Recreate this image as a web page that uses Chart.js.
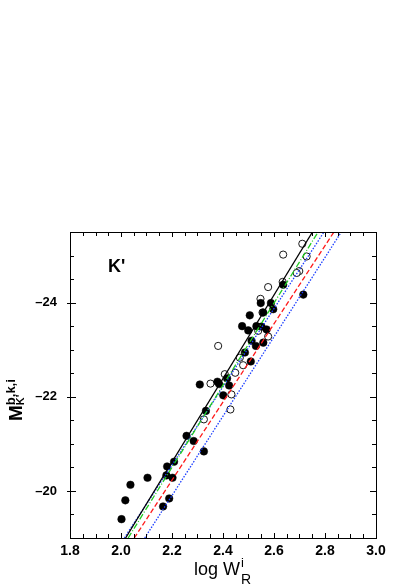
<!DOCTYPE html>
<html><head><meta charset="utf-8">
<style>html,body{margin:0;padding:0;background:#fff;}#wrap{width:415px;height:588px;position:relative;}</style>
<script src="https://cdn.jsdelivr.net/npm/chart.js@4/dist/chart.umd.min.js"></script>
</head><body><div id="wrap"><canvas id="c" width="415" height="588"></canvas></div>
<script>
// Filled circles (log W, M)
const filledX = [2.002,2.017,2.037,2.104,2.165,2.189,2.181,2.178,2.202,2.208,2.257,2.285,2.325,2.333,2.309,2.378,2.385,2.424,2.401,2.416,2.486,2.509,2.512,2.529,2.475,2.499,2.505,2.531,2.551,2.571,2.558,2.548,2.588,2.558,2.597,2.636,2.715];
const filledY = [-19.40,-19.80,-20.13,-20.28,-19.67,-19.84,-20.52,-20.33,-20.28,-20.62,-21.17,-21.06,-20.84,-21.70,-22.26,-22.32,-22.27,-22.24,-22.03,-22.39,-22.94,-22.75,-23.19,-23.08,-23.50,-23.41,-23.73,-23.50,-23.49,-23.43,-23.15,-23.99,-23.99,-23.79,-23.86,-24.38,-24.17];
// Open circles
const openX = [2.711,2.636,2.728,2.699,2.689,2.634,2.577,2.547,2.555,2.577,2.538,2.381,2.351,2.407,2.448,2.433,2.429,2.325,2.466,2.479];
const openY = [-25.25,-25.02,-24.98,-24.67,-24.63,-24.44,-24.33,-24.08,-23.79,-23.28,-23.40,-23.08,-22.28,-22.48,-22.51,-22.05,-21.73,-21.52,-22.83,-22.67];
// Fit lines: x at M=-19 and at M=-25.5
const lineY = [-19, -25.5];
const lineBlackX = [2.018, 2.751];
const lineGreenX = [2.028, 2.773];
const lineBlueInnerX = [2.013, 2.796];
const lineRedX = [2.052, 2.835];
const lineBlueOuterX = [2.093, 2.864];
// Ticks
const xTicks = [1.8, 2.0, 2.2, 2.4, 2.6, 2.8, 3.0];
const yTicks = [-24, -22, -20];
const xMinorStep = 0.05;
const yMinorStep = 0.5;

const pts = (xs, ys) => xs.map((x, i) => ({x: x, y: ys[i]}));

function lineDs(xs, color, dash, w) {
  return {type: 'line', data: pts(xs, lineY), borderColor: color, borderWidth: w || 1.3,
    borderDash: dash, pointRadius: 0, fill: false, tension: 0, order: 0};
}

const framePlugin = {
  id: 'frame',
  afterDatasetsDraw(chart) {
    const ctx = chart.ctx, a = chart.chartArea;
    const xs = chart.scales.x, ys = chart.scales.y;
    ctx.save();
    ctx.strokeStyle = '#000';
    ctx.lineWidth = 1;
    ctx.strokeRect(Math.round(a.left) + 0.5, Math.round(a.top) + 0.5, Math.round(a.right - a.left), Math.round(a.bottom - a.top));
    ctx.beginPath();
    for (let v = 1.8; v <= 3.0001; v += xMinorStep) {
      const major = Math.abs(v * 5 - Math.round(v * 5)) < 1e-6;
      const px = Math.round(xs.getPixelForValue(v)) + 0.5;
      const len = major ? 5 : 4;
      ctx.moveTo(px, a.bottom); ctx.lineTo(px, a.bottom - len);
      ctx.moveTo(px, a.top); ctx.lineTo(px, a.top + len);
    }
    for (let v = -25.5; v <= -19.0001; v += yMinorStep) {
      const major = Math.abs(v / 2 - Math.round(v / 2)) < 1e-6;
      const py = Math.round(ys.getPixelForValue(v)) + 0.5;
      const len = major ? 6 : 4;
      ctx.moveTo(a.left - (major ? 3 : 0), py); ctx.lineTo(a.left + len, py);
      ctx.moveTo(a.right, py); ctx.lineTo(a.right - len, py);
    }
    ctx.stroke();

    ctx.fillStyle = '#000';
    ctx.font = 'bold 18px "Liberation Sans", Arial, sans-serif';
    ctx.textAlign = 'left'; ctx.textBaseline = 'alphabetic';
    ctx.fillText("K'", a.left + 38, a.top + 40);

    // x title: log W^i_R
    const cx = (a.left + a.right) / 2;
    ctx.font = '18px "Liberation Sans", Arial, sans-serif';
    const main = 'log W';
    const mw = ctx.measureText(main).width;
    const x0 = cx - (mw + 12) / 2;
    ctx.fillText(main, x0, 575);
    ctx.font = '13px "Liberation Sans", Arial, sans-serif';
    ctx.fillText('i', x0 + mw + 1, 567);
    ctx.font = '14px "Liberation Sans", Arial, sans-serif';
    ctx.fillText('R', x0 + mw + 1, 584);

    // y title: M^{b,k,i}_{K'}
    ctx.translate(22, 421);
    ctx.rotate(-Math.PI / 2);
    ctx.font = 'bold 19px "Liberation Sans", Arial, sans-serif';
    ctx.fillText('M', 0, 0);
    const Mw = ctx.measureText('M').width;
    ctx.font = 'bold 13px "Liberation Sans", Arial, sans-serif';
    ctx.fillText('b,k,i', Mw, -7);
    ctx.font = 'bold 11px "Liberation Sans", Arial, sans-serif';
    ctx.fillText("K'", Mw, 2);
    ctx.restore();
  }
};

new Chart(document.getElementById('c'), {
  type: 'scatter',
  data: {
    datasets: [
      lineDs(lineBlackX, '#000000', []),
      lineDs(lineGreenX, '#22cc22', [6, 2, 1, 2]),
      lineDs(lineBlueInnerX, '#1a3cff', [1.5, 1.5]),
      lineDs(lineRedX, '#ff1a1a', [5, 2.5]),
      lineDs(lineBlueOuterX, '#1a3cff', [1.5, 1.5]),
      {type: 'scatter', data: pts(filledX, filledY), pointRadius: 3.8, pointBackgroundColor: '#000',
        pointBorderColor: '#000', pointBorderWidth: 0.5, order: 1},
      {type: 'scatter', data: pts(openX, openY), pointRadius: 3.6, pointBackgroundColor: '#fff',
        pointBorderColor: '#000', pointBorderWidth: 0.9, order: 2}
    ]
  },
  options: {
    responsive: false, animation: false, devicePixelRatio: 1,
    layout: {padding: {left: 0, right: 39, top: 232, bottom: 0}},
    plugins: {legend: {display: false}, tooltip: {enabled: false}},
    scales: {
      x: {
        type: 'linear', position: 'bottom', min: 1.8, max: 3.0,
        grid: {display: false, drawTicks: false}, border: {display: false},
        afterBuildTicks: s => { s.ticks = xTicks.map(v => ({value: v})); },
        afterFit: s => { s.height = 50; },
        ticks: {autoSkip: false, maxRotation: 0, padding: 5, color: '#000',
          font: {family: '"Liberation Sans", Arial, sans-serif', size: 14, weight: 'bold'},
          callback: v => Number(v).toFixed(1)}
      },
      y: {
        type: 'linear', position: 'left', min: -25.5, max: -19, reverse: true,
        grid: {display: false, drawTicks: false}, border: {display: false},
        afterBuildTicks: s => { s.ticks = yTicks.map(v => ({value: v})); },
        afterFit: s => { s.width = 70; },
        ticks: {autoSkip: false, padding: 13, color: '#000',
          font: {family: '"Liberation Sans", Arial, sans-serif', size: 13, weight: 'bold'},
          callback: v => (v < 0 ? '\u2013' : '') + Math.abs(v)}
      }
    }
  },
  plugins: [framePlugin]
});
</script>
</body></html>
